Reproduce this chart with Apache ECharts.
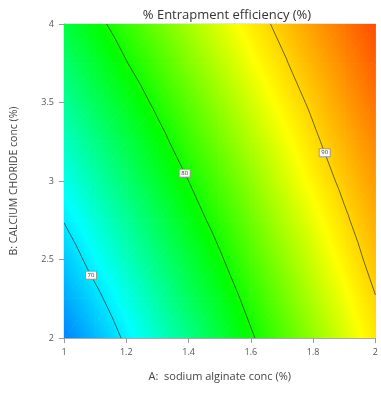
<!DOCTYPE html>
<html>
<head>
<meta charset="utf-8">
<script src="https://cdn.jsdelivr.net/npm/echarts@6/dist/echarts.min.js"></script>
<style>
  html, body { margin: 0; padding: 0; background: #fff; }
  #chart { width: 381px; height: 394px; }
</style>
</head>
<body>
<div id="chart"></div>
<script>
// Sodium alginate concentration (%): columns of the response grid
const alginate = [1.0, 1.1, 1.2, 1.3, 1.4, 1.5, 1.6, 1.7, 1.8, 1.9, 2.0];
// Calcium chloride concentration (%): rows of the response grid
const calcium = [2.0, 2.25, 2.5, 2.75, 3.0, 3.25, 3.5, 3.75, 4.0];
// Predicted entrapment efficiency (%), one row per calcium level
const efficiency = [
  [65.7, 68.0, 70.4, 72.7, 75.0, 77.4, 79.7, 82.0, 84.3, 86.7, 89.0],
  [67.2, 69.4, 71.7, 74.0, 76.3, 78.5, 80.8, 83.1, 85.4, 87.6, 89.9],
  [68.6, 70.9, 73.1, 75.3, 77.5, 79.7, 82.0, 84.2, 86.4, 88.6, 90.9],
  [70.1, 72.3, 74.4, 76.6, 78.8, 80.9, 83.1, 85.3, 87.4, 89.6, 91.8],
  [71.6, 73.7, 75.8, 77.9, 80.0, 82.1, 84.2, 86.4, 88.5, 90.6, 92.7],
  [73.0, 75.1, 77.1, 79.2, 81.3, 83.3, 85.4, 87.4, 89.5, 91.6, 93.6],
  [74.5, 76.5, 78.5, 80.5, 82.5, 84.5, 86.5, 88.5, 90.5, 92.6, 94.6],
  [75.9, 77.9, 79.9, 81.8, 83.8, 85.7, 87.7, 89.6, 91.6, 93.5, 95.5],
  [77.4, 79.3, 81.2, 83.1, 85.0, 86.9, 88.8, 90.7, 92.6, 94.5, 96.4]
];
// Contour levels and the calcium level at which each contour carries its tag
const contourLevels = [70, 80, 90];
const contourTagAt = [2.4, 3.05, 3.18];
// Axis ticks
const xTicks = [1, 1.2, 1.4, 1.6, 1.8, 2];
const yTicks = [2, 2.5, 3, 3.5, 4];

const FONT = '"Open Sans", "Noto Sans", sans-serif';

// Rainbow ramp: blue -> cyan -> green -> yellow -> red
const ramp = [
  [60, [0, 0, 255]],
  [71, [0, 255, 255]],
  [79.5, [0, 255, 0]],
  [88, [255, 255, 0]],
  [100, [255, 0, 0]]
];
function rgbAt(v) {
  if (v <= ramp[0][0]) return ramp[0][1];
  for (let k = 0; k < ramp.length - 1; k++) {
    const [v0, c0] = ramp[k], [v1, c1] = ramp[k + 1];
    if (v <= v1) {
      const f = (v - v0) / (v1 - v0);
      return c0.map((c, n) => Math.round(c + f * (c1[n] - c)));
    }
  }
  return ramp[ramp.length - 1][1];
}
function css(c) { return 'rgb(' + c.join(',') + ')'; }

// Linear gradient matching a linearly varying value across one triangle
function triangleFill(t) {
  const [A, B, C] = t;
  const d1x = B.p[0] - A.p[0], d1y = B.p[1] - A.p[1];
  const d2x = C.p[0] - A.p[0], d2y = C.p[1] - A.p[1];
  const dv1 = B.v - A.v, dv2 = C.v - A.v;
  const det = d1x * d2y - d1y * d2x;
  const vs = t.map(q => q.v);
  const lo = Math.min(...vs), hi = Math.max(...vs);
  if (Math.abs(det) < 1e-9 || hi - lo < 1e-9) return css(rgbAt(lo));
  const ga = (dv1 * d2y - dv2 * d1y) / det;
  const gb = (d1x * dv2 - d2x * dv1) / det;
  const g2 = ga * ga + gb * gb;
  const sx = A.p[0] + (lo - A.v) * ga / g2, sy = A.p[1] + (lo - A.v) * gb / g2;
  const ex = A.p[0] + (hi - A.v) * ga / g2, ey = A.p[1] + (hi - A.v) * gb / g2;
  const stops = [{ offset: 0, color: css(rgbAt(lo)) }];
  ramp.forEach(([rv]) => {
    if (rv > lo && rv < hi) stops.push({ offset: (rv - lo) / (hi - lo), color: css(rgbAt(rv)) });
  });
  stops.push({ offset: 1, color: css(rgbAt(hi)) });
  return { type: 'linear', x: sx, y: sy, x2: ex, y2: ey, global: true, colorStops: stops };
}

function cellTriangles(api) {
  const i = api.value(2), j = api.value(3);
  const pts = [[i, j], [i + 1, j], [i + 1, j + 1], [i, j + 1]].map(([a, b]) => ({
    p: api.coord([alginate[a], calcium[b]]),
    v: efficiency[b][a]
  }));
  return [[pts[0], pts[1], pts[2]], [pts[0], pts[2], pts[3]]];
}

function renderField(params, api) {
  return {
    type: 'group',
    children: cellTriangles(api).map(t => ({
      type: 'polygon',
      shape: { points: t.map(q => q.p) },
      style: { fill: triangleFill(t), stroke: triangleFill(t), lineWidth: 0.8 }
    }))
  };
}

function renderContours(params, api) {
  const children = [];
  cellTriangles(api).forEach(t => {
    contourLevels.forEach(level => {
      const L = level + 1e-4;
      const cut = [];
      for (let k = 0; k < 3; k++) {
        const P = t[k], Q = t[(k + 1) % 3];
        if ((P.v - L) * (Q.v - L) < 0) {
          const f = (L - P.v) / (Q.v - P.v);
          cut.push([P.p[0] + f * (Q.p[0] - P.p[0]), P.p[1] + f * (Q.p[1] - P.p[1])]);
        }
      }
      if (cut.length === 2) {
        children.push({
          type: 'line',
          shape: { x1: cut[0][0], y1: cut[0][1], x2: cut[1][0], y2: cut[1][1] },
          style: { stroke: 'rgba(30,45,30,0.65)', lineWidth: 1 }
        });
      }
    });
  });
  return { type: 'group', children };
}

// Bilinear lookup in the response grid
function gridValue(a, b) {
  let i = 0, j = 0;
  while (i < alginate.length - 2 && a > alginate[i + 1]) i++;
  while (j < calcium.length - 2 && b > calcium[j + 1]) j++;
  const fu = (a - alginate[i]) / (alginate[i + 1] - alginate[i]);
  const fw = (b - calcium[j]) / (calcium[j + 1] - calcium[j]);
  const v00 = efficiency[j][i], v10 = efficiency[j][i + 1];
  const v01 = efficiency[j + 1][i], v11 = efficiency[j + 1][i + 1];
  return v00 * (1 - fu) * (1 - fw) + v10 * fu * (1 - fw) + v01 * (1 - fu) * fw + v11 * fu * fw;
}
// Alginate level where the contour crosses the given calcium level
function contourAlginate(level, b) {
  let lo = alginate[0], hi = alginate[alginate.length - 1];
  for (let k = 0; k < 40; k++) {
    const mid = (lo + hi) / 2;
    if (gridValue(mid, b) < level) lo = mid; else hi = mid;
  }
  return (lo + hi) / 2;
}

const cells = [];
for (let j = 0; j < calcium.length - 1; j++) {
  for (let i = 0; i < alginate.length - 1; i++) {
    cells.push([alginate[i], calcium[j], i, j]);
  }
}
const tags = contourLevels.map((L, k) => [contourAlginate(L, contourTagAt[k]), contourTagAt[k], L]);

const chart = echarts.init(document.getElementById('chart'), null, { renderer: 'canvas' });
chart.setOption({
  animation: false,
  backgroundColor: '#fff',
  title: {
    text: '% Entrapment efficiency (%)',
    left: 222,
    top: 4,
    textAlign: 'center',
    textStyle: { fontFamily: FONT, fontSize: 13, fontWeight: 'normal', color: '#333' }
  },
  grid: { left: 64, right: 2, top: 24, bottom: 56, show: true, borderColor: '#c8c8c8', borderWidth: 1 },
  xAxis: {
    type: 'value',
    min: xTicks[0],
    max: xTicks[xTicks.length - 1],
    interval: 0.2,
    name: 'A:  sodium alginate conc (%)',
    nameLocation: 'middle',
    nameGap: 33,
    nameTextStyle: { fontFamily: FONT, fontSize: 11, color: '#444' },
    axisLine: { show: true, lineStyle: { color: '#aaa' } },
    axisTick: { show: true, length: 5, lineStyle: { color: '#999' } },
    axisLabel: { fontFamily: FONT, fontSize: 9, color: '#555', margin: 10, showMaxLabel: true, showMinLabel: true },
    splitLine: { show: false }
  },
  yAxis: {
    type: 'value',
    min: yTicks[0],
    max: yTicks[yTicks.length - 1],
    interval: 0.5,
    name: 'B: CALCIUM CHORIDE conc (%)',
    nameLocation: 'middle',
    nameGap: 44,
    nameRotate: 90,
    nameTextStyle: { fontFamily: FONT, fontSize: 10.5, color: '#444' },
    axisLine: { show: true, lineStyle: { color: '#aaa' } },
    axisTick: { show: true, length: 5, lineStyle: { color: '#999' } },
    axisLabel: { fontFamily: FONT, fontSize: 9, color: '#555', margin: 10 },
    splitLine: { show: false }
  },
  series: [
    {
      type: 'custom',
      renderItem: renderField,
      data: cells,
      encode: { x: 0, y: 1 },
      clip: true,
      z: 1,
      silent: true
    },
    {
      type: 'custom',
      renderItem: renderContours,
      data: cells,
      encode: { x: 0, y: 1 },
      clip: true,
      z: 2,
      silent: true
    },
    {
      type: 'scatter',
      data: tags,
      symbol: 'rect',
      symbolSize: [11, 8],
      z: 3,
      itemStyle: { color: '#fff', borderColor: '#8a8a8a', borderWidth: 0.8, opacity: 1 },
      label: {
        show: true,
        position: 'inside',
        formatter: p => String(p.value[2]),
        fontFamily: FONT,
        fontSize: 6,
        color: '#333'
      },
      silent: true
    }
  ]
});
</script>
</body>
</html>
